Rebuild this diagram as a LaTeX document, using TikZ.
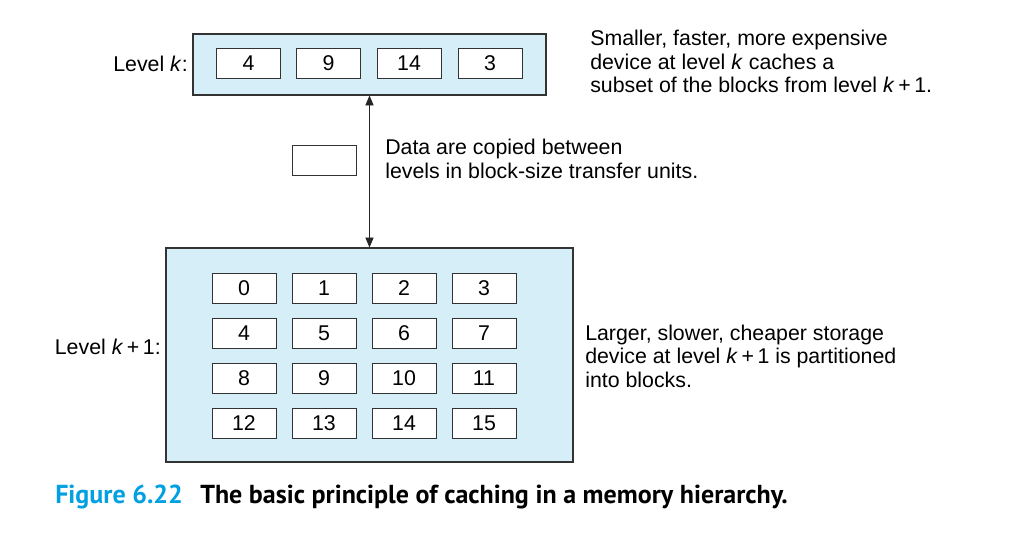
\documentclass[tikz,border=0pt]{standalone}
\usepackage{fontspec}
\setmainfont{Liberation Sans}
\newfontfamily\capfont{PT Sans}
\usetikzlibrary{arrows}
\definecolor{cacheblue}{RGB}{214,238,248}
\definecolor{figcyan}{RGB}{0,160,225}
\tikzset{
  levelbox/.style={draw=black!80, fill=cacheblue, line width=0.8pt, inner sep=0pt},
  blockbox/.style={draw=black!80, fill=white, line width=0.7pt, minimum width=48pt, minimum height=22.5pt, inner sep=0pt},
  note/.style={anchor=west, align=left, inner sep=0pt},
}
\newcommand{\kone}{\textit{k}\,+\,1}

\begin{document}
\begin{tikzpicture}[x=0.75pt, y=-0.75pt, font=\fontsize{16}{17.6}\selectfont]
        \useasboundingbox (0,0) rectangle (1018,534);

        % level k
        \node[levelbox, minimum width=264.75pt, minimum height=45.75pt] (lvk) at (369.5,64.5) {};
        \node[blockbox] (k4) at (248.5,63.5) {4};
        \node[blockbox] (k9) at (328.5,63.5) {9};
        \node[blockbox] (k14) at (409,63.5) {14};
        \node[blockbox] (k3) at (490,63.5) {3};
        \node[anchor=east, inner sep=0pt] (lvklabel) at (188,64) {Level \textit{k}:};

        % level k+1
        \node[levelbox, minimum width=305.25pt, minimum height=160.5pt] (lvkk) at (369.5,355) {};
        \foreach \n [count=\i from 0] in {0,...,15} {
            \pgfmathtruncatemacro{\col}{mod(\i,4)}
            \pgfmathtruncatemacro{\row}{div(\i,4)}
            \node[blockbox] (b\n) at (244+80*\col, 288+45*\row) {\n};
        }
        \node[anchor=east, inner sep=0pt] (lvkklabel) at (161,347) {Level \kone:};

        % transfer
        \draw[triangle 45-triangle 45, line width=0.7pt, black!85] (lvk.south) -- (lvkk.north);
        \node[blockbox] (unit) at (324,160) {};

        \node[note] (topnote) at (590,61.5) {Smaller, faster, more expensive\\device at level \textit{k} caches a\\subset of the blocks from level \kone.};
        \node[note] (midnote) at (385,159) {Data are copied between\\levels in block-size transfer units.};
        \node[note] (botnote) at (585,356) {Larger, slower, cheaper storage\\device at level \kone{} is partitioned\\into blocks.};

        \node[anchor=west, inner sep=0pt, text=figcyan, font=\capfont\bfseries\fontsize{19.5}{22}\selectfont] (capnum) at (55,497) {Figure 6.22};
        \node[anchor=west, inner sep=0pt, font=\capfont\bfseries\fontsize{19.5}{22}\selectfont] (captext) at (200,497) {The basic principle of caching in a memory hierarchy.};
    \end{tikzpicture}
\end{document}
